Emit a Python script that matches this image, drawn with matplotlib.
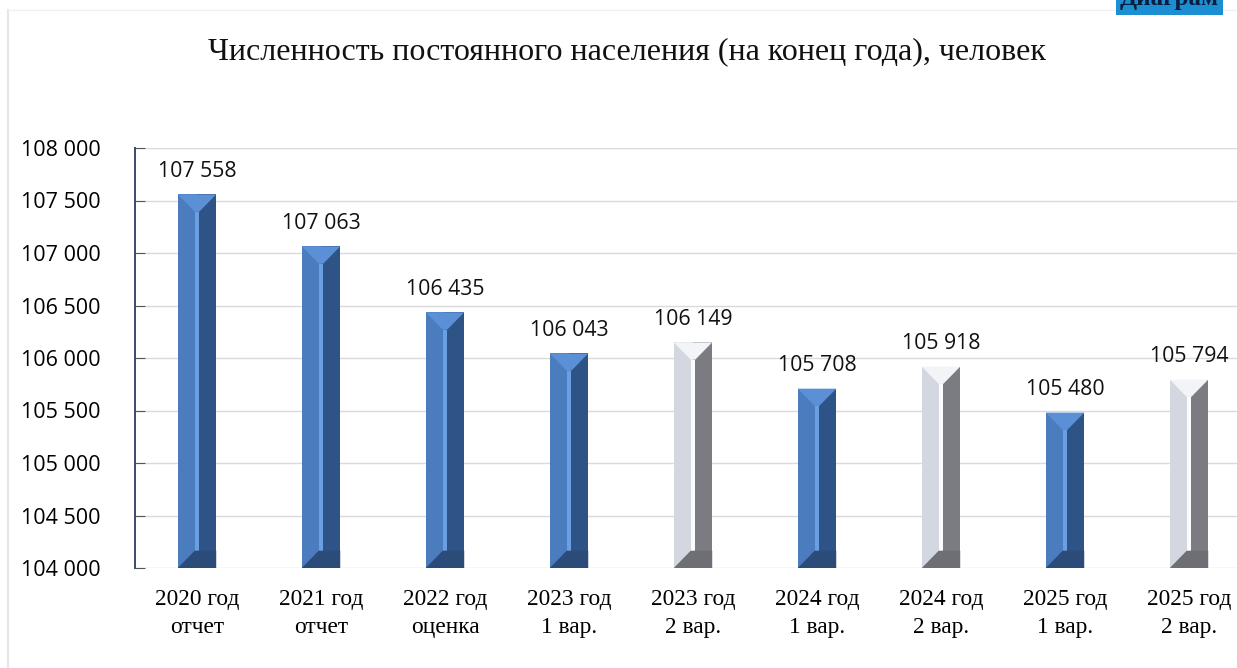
# -*- coding: utf-8 -*-
import matplotlib
matplotlib.use('Agg')
import matplotlib.pyplot as plt
from matplotlib.patches import Polygon, Rectangle
from matplotlib.ticker import FuncFormatter

'''
1.Data
'''
categories=['2020 год\nотчет','2021 год\nотчет','2022 год\nоценка','2023 год\n1 вар.','2023 год\n2 вар.',
            '2024 год\n1 вар.','2024 год\n2 вар.','2025 год\n1 вар.','2025 год\n2 вар.']
values=[107558,107063,106435,106043,106149,105708,105918,105480,105794]
variant2=[False,False,False,False,True,False,True,False,True]  # grey bars = 2nd variant
title='Численность постоянного населения (на конец года), человек'

'''
2.Figure
'''
W,H=1237,668
fig=plt.figure(figsize=(W/100,H/100),dpi=100)
ax=fig.add_axes([135/W,1-568/H,(W-135)/W,420/H])

ymin,ymax=104000,108000
ax.set_ylim(ymin,ymax)
ax.set_xlim(-0.5,-0.5+(W-135)/124.0)

#(1) Beveled bars
bw=0.31
depth=165   # bevel depth in data units
sw=0.018    # half width of the light centre strip
blue={'left':'#4A7CBE','right':'#2E5386','top':'#5C90D6','strip':'#6A9FE2','bottom':'#2B4B78'}
grey={'left':'#D3D8E0','right':'#7B7C82','top':'#F2F4F7','strip':'#FBFCFE','bottom':'#6E6F74'}
for i,v in enumerate(values):
    c=grey if variant2[i] else blue
    x0,x1,xc=i-bw/2,i+bw/2,i
    ax.add_patch(Rectangle((x0,ymin),bw/2,v-ymin,color=c['left'],lw=0,zorder=3))
    ax.add_patch(Rectangle((xc,ymin),bw/2,v-ymin,color=c['right'],lw=0,zorder=3))
    ax.add_patch(Polygon([(x0,v),(x1,v),(xc+sw,v-depth),(xc-sw,v-depth)],closed=True,color=c['top'],lw=0,zorder=4))
    ax.add_patch(Rectangle((xc-sw,ymin+depth),2*sw,v-ymin-2*depth,color=c['strip'],lw=0,zorder=4))
    ax.add_patch(Polygon([(x0,ymin),(xc-sw,ymin+depth),(x1,ymin+depth),(x1,ymin)],closed=True,color=c['bottom'],lw=0,zorder=4))
    ax.annotate('{:,}'.format(v).replace(',',' '),(i,v),xytext=(0,9),textcoords='offset points',
                ha='center',va='bottom',fontsize=15.3,family='Open Sans',color='#111111')

#(2) Axes styling
ax.set_yticks(range(ymin,ymax+1,500))
ax.yaxis.set_major_formatter(FuncFormatter(lambda y,p:'{:,}'.format(int(y)).replace(',',' ')))
ax.set_xticks(range(len(categories)))
ax.set_xticklabels(categories,family='Liberation Serif',fontsize=16.8,linespacing=1.45)
ax.grid(axis='y',color='#DADADA',lw=1,zorder=0)
for s in ['top','right','bottom']:
    ax.spines[s].set_visible(False)
ax.spines['left'].set_color('#3B4A6B')
ax.spines['left'].set_linewidth(1.4)
ax.tick_params(axis='y',direction='in',length=7,color='#555555',pad=25,labelsize=15.5)
ax.tick_params(axis='x',length=0,pad=15)
for lb in ax.get_yticklabels():
    lb.set_family('Open Sans')
ax.set_facecolor('none')

#(3) Title and frame decorations
fig.text(627/W,1-52/H,title,ha='center',va='center',family='Liberation Serif',fontsize=23,color='#111111')
fig.add_artist(plt.Line2D([8/W,8/W],[0,1-10/H],color='#E6E6E6',lw=1.5))
fig.add_artist(plt.Line2D([8/W,1],[1-10/H,1-10/H],color='#F0F0F0',lw=1))
fig.text(1120/W,1+1/H,'Диаграм',ha='left',va='center',family='Liberation Serif',fontsize=18,
         weight='bold',color='#0B1E40',bbox=dict(facecolor='#1C8FD3',edgecolor='none',pad=3))

plt.savefig('out.png',dpi=100)
